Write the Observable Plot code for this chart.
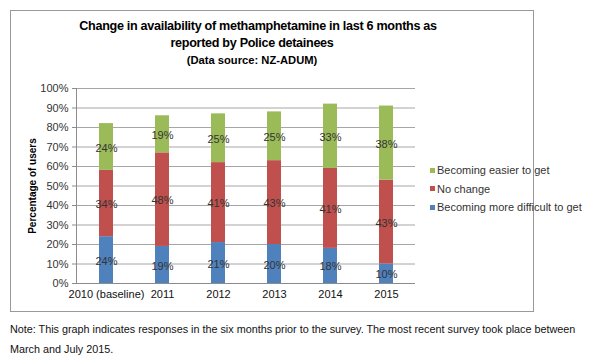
<!DOCTYPE html>
<html>
<head>
<meta charset="utf-8">
<script src="https://cdn.jsdelivr.net/npm/d3@7"></script>
<script src="https://cdn.jsdelivr.net/npm/@observablehq/plot@0.6"></script>
<style>
  html, body { margin: 0; padding: 0; background: #fff; }
  body { font-family: "Liberation Sans", Arial, sans-serif; }
  #wrap { position: relative; width: 600px; height: 363px; overflow: hidden; background: #fff; }
  #box { position: absolute; left: 10px; top: 10px; width: 522px; height: 300px; border: 1px solid #999; }
  #title { position: absolute; left: 10px; width: 484px; top: 18px; text-align: center; font-weight: bold; color: #000; }
  #title .t { font-size: 12.6px; line-height: 17px; letter-spacing: -0.3px; white-space: nowrap; }
  #title .t1 { padding-left: 12px; }
  #title .s { font-size: 11.2px; line-height: 16px; }
  #chart { position: absolute; left: 0; top: 0; }
  #legend { position: absolute; left: 430px; top: 161px; font-size: 11px; color: #333; }
  #legend .row { height: 18.5px; display: flex; align-items: center; white-space: nowrap; }
  #legend .sw { width: 5px; height: 5px; margin-right: 2px; }
  #note { position: absolute; left: 10px; top: 319px; font-size: 10.8px; line-height: 20px; color: #111; width: 590px; }
</style>
</head>
<body>
<div id="wrap">
  <div id="box"></div>
  <div id="chart"></div>
  <div id="title">
    <div class="t t1">Change in availability of methamphetamine in last 6 months as</div>
    <div class="t">reported by Police detainees</div>
    <div class="s">(Data source: NZ-ADUM)</div>
  </div>
  <div id="legend"></div>
  <div id="note">Note: This graph indicates responses in the six months prior to the survey. The most recent survey took place between<br>March and July 2015.</div>
</div>
<script>
const years = ["2010 (baseline)", "2011", "2012", "2013", "2014", "2015"];
const seriesNames = ["Becoming more difficult to get", "No change", "Becoming easier to get"];
const seriesColors = ["#4F81BD", "#C0504D", "#9BBB59"];
const moreDifficult = [24, 19, 21, 20, 18, 10];
const noChange = [34, 48, 41, 43, 41, 43];
const easier = [24, 19, 25, 25, 33, 38];
const yTicks = [0, 10, 20, 30, 40, 50, 60, 70, 80, 90, 100];

const seriesValues = [moreDifficult, noChange, easier];
const data = [];
years.forEach((yr, i) => {
  seriesNames.forEach((s, j) => {
    data.push({year: yr, series: s, value: seriesValues[j][i]});
  });
});

const font = '"Liberation Sans", Arial, sans-serif';

const chart = Plot.plot({
  width: 600,
  height: 363,
  marginLeft: 76,
  marginRight: 185,
  marginTop: 88,
  marginBottom: 80,
  style: {fontFamily: font, fontSize: "11px", color: "#333", background: "transparent", overflow: "visible"},
  x: {domain: years, paddingInner: 0.75, paddingOuter: 0.375, label: null},
  y: {domain: [0, 100], label: null},
  color: {domain: seriesNames, range: seriesColors},
  marks: [
    Plot.gridY(yTicks, {stroke: "#a6a6a6", strokeOpacity: 1}),
    Plot.barY(data, {x: "year", y: "value", fill: "series", z: "series", order: seriesNames}),
    Plot.text(data, Plot.stackY({x: "year", y: "value", z: "series", order: seriesNames, text: d => d.value + "%", fill: "#333", fontSize: 11, dy: 1})),
    Plot.ruleY([0], {stroke: "#8c8c8c"}),
    Plot.frame({anchor: "left", stroke: "#8c8c8c"}),
    Plot.axisY({ticks: yTicks, tickFormat: d => d + "%", tickSize: 4, tickPadding: 4, stroke: "#8c8c8c", fill: "#333", fontSize: 11, label: null}),
    Plot.axisX({tickSize: 0, tickPadding: 7, fill: "#111", fontSize: 11, label: null}),
    Plot.text(["Percentage of users"], {frameAnchor: "left", textAnchor: "middle", dx: -44, rotate: -90, text: d => d, fontWeight: "bold", fontSize: 10, fill: "#000"})
  ]
});
document.getElementById("chart").appendChild(chart);

const legend = document.getElementById("legend");
[2, 1, 0].forEach(j => {
  const row = document.createElement("div");
  row.className = "row";
  const sw = document.createElement("span");
  sw.className = "sw";
  sw.style.background = seriesColors[j];
  const t = document.createElement("span");
  t.textContent = seriesNames[j];
  row.appendChild(sw);
  row.appendChild(t);
  legend.appendChild(row);
});
</script>
</body>
</html>
